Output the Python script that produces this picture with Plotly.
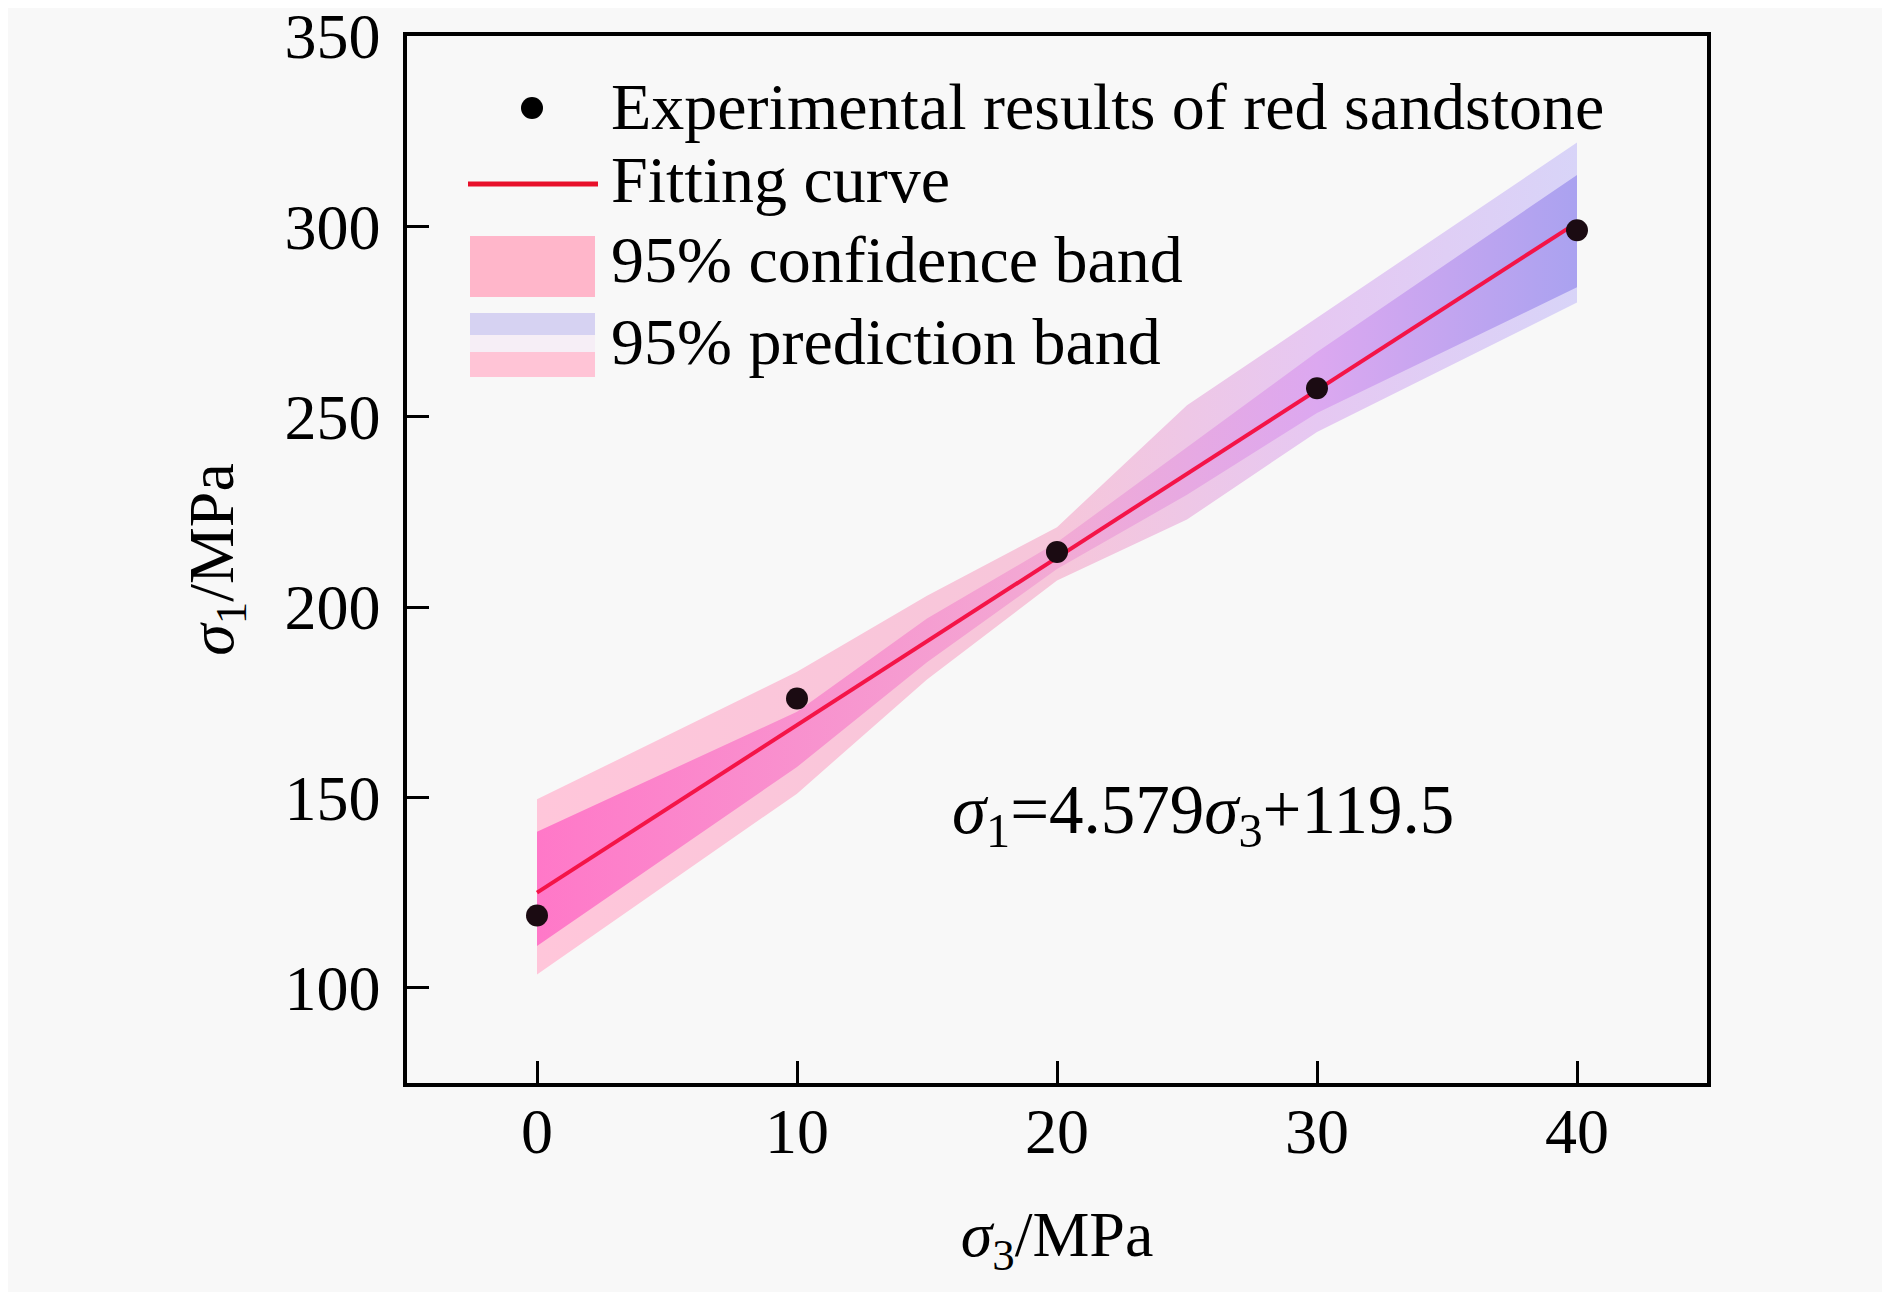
import plotly.graph_objects as go

# confining pressure sigma3 and peak strength sigma1 (MPa)
sigma3 = [0, 10, 20, 30, 40]
sigma1 = [119.0, 176.0, 214.5, 257.5, 299.0]

# fitted line as drawn (read at both ends)
fit_x = [0, 40]
fit_y = [125.0, 301.0]

# band edges
band_x = [0, 10, 15, 20, 25, 30, 40]
conf_upper = [141.0, 172.5, 197.0, 217.0, 242.0, 267.0, 313.5]
conf_lower = [111.0, 158.0, 185.5, 210.0, 229.5, 251.0, 284.0]
pred_upper = [149.5, 183.0, 203.0, 221.0, 253.0, 276.0, 322.0]
pred_lower = [103.5, 151.0, 181.0, 207.0, 223.0, 246.0, 280.0]

x_ticks = [0, 10, 20, 30, 40]
y_ticks = [100, 150, 200, 250, 300, 350]

legend_labels = ["Experimental results of red sandstone", "Fitting curve",
                 "95% confidence band", "95% prediction band"]
equation = "<i>σ</i><sub>1</sub>=4.579<i>σ</i><sub>3</sub>+119.5"

W, H = 1890, 1292
OFF = 8  # page body margin
L, T = 407 - OFF, 36 - OFF
PW, PH = 1300, 1047
R, B = W - L - PW, H - T - PH
FONT = "Times New Roman, Liberation Serif, serif"
BG = "#f8f8f8"


def px(x):
    return (x - OFF - L) / PW


def py(y):
    return (T + PH - (y - OFF)) / PH


fig = go.Figure()

# prediction band (outer, light) then confidence band on top
fig.add_trace(go.Scatter(
    x=band_x + band_x[::-1], y=pred_upper + pred_lower[::-1],
    fill="toself", mode="none", hoverinfo="skip", showlegend=False,
    fillgradient=dict(type="horizontal",
                      colorscale=[[0, "#ffc6da"], [0.5, "#f6c6da"],
                                  [0.75, "#e6c8f2"], [1, "#d8d4f8"]])))
fig.add_trace(go.Scatter(
    x=band_x + band_x[::-1], y=conf_upper + conf_lower[::-1],
    fill="toself", mode="none", hoverinfo="skip", showlegend=False,
    fillgradient=dict(type="horizontal",
                      colorscale=[[0, "#ff78c8"], [0.5, "#f2aad4"],
                                  [0.75, "#dca8f0"], [1, "#aaa2f0"]])))

fig.add_trace(go.Scatter(x=fit_x, y=fit_y, mode="lines", showlegend=False,
                         line=dict(color="#f41448", width=4)))
fig.add_trace(go.Scatter(x=sigma3, y=sigma1, mode="markers", showlegend=False,
                         marker=dict(color="#1b0b12", size=22)))

# hand-drawn legend, sized like the original
shapes = [
    dict(type="circle", x0=px(521), x1=px(543), y0=py(97), y1=py(119),
         fillcolor="#000000", line_width=0),
    dict(type="line", x0=px(468), x1=px(598), y0=py(184), y1=py(184),
         line=dict(color="#e8102a", width=5)),
    dict(type="rect", x0=px(470), x1=px(595), y0=py(236), y1=py(297),
         fillcolor="#ffb6ca", line_width=0),
    dict(type="rect", x0=px(470), x1=px(595), y0=py(313), y1=py(335),
         fillcolor="#d6d2f2", line_width=0),
    dict(type="rect", x0=px(470), x1=px(595), y0=py(335), y1=py(352),
         fillcolor="#f6eef6", line_width=0),
    dict(type="rect", x0=px(470), x1=px(595), y0=py(352), y1=py(377),
         fillcolor="#ffc4d6", line_width=0),
]
for s in shapes:
    s.update(xref="paper", yref="paper", layer="above")
    fig.add_shape(**s)

for label, yc in zip(legend_labels, [106, 179, 260, 341]):
    fig.add_annotation(text=label, xref="paper", yref="paper", x=px(609), y=py(yc),
                       xanchor="left", yanchor="middle", showarrow=False,
                       font=dict(size=66, color="#000000", family=FONT))

fig.add_annotation(text=equation, x=25.6, y=145.5, xanchor="center", yanchor="middle",
                   showarrow=False, font=dict(size=69, color="#000000", family=FONT))

axis_style = dict(showline=True, linecolor="#000000", linewidth=3.5, mirror=True,
                  ticks="inside", ticklen=22, tickwidth=3, tickcolor="#000000",
                  showgrid=False, zeroline=False, ticklabeloverflow="allow",
                  tickfont=dict(size=64, color="#000000", family=FONT))

fig.update_xaxes(range=[-5, 45], tickvals=x_ticks, ticklabelstandoff=-11,
                 title=dict(text="<i>σ</i><sub>3</sub>/MPa", standoff=47,
                            font=dict(size=64, color="#000000", family=FONT)),
                 **axis_style)
fig.update_yaxes(range=[75, 350], tickvals=y_ticks, ticklabelstandoff=10,
                 title=dict(text="<i>σ</i><sub>1</sub>/MPa", standoff=31,
                            font=dict(size=64, color="#000000", family=FONT)),
                 **axis_style)

fig.update_layout(width=W, height=H, margin=dict(l=L, r=R, t=T, b=B, autoexpand=False),
                  paper_bgcolor=BG, plot_bgcolor=BG, showlegend=False,
                  font=dict(family=FONT, color="#000000"))

fig.write_html("out.html")
